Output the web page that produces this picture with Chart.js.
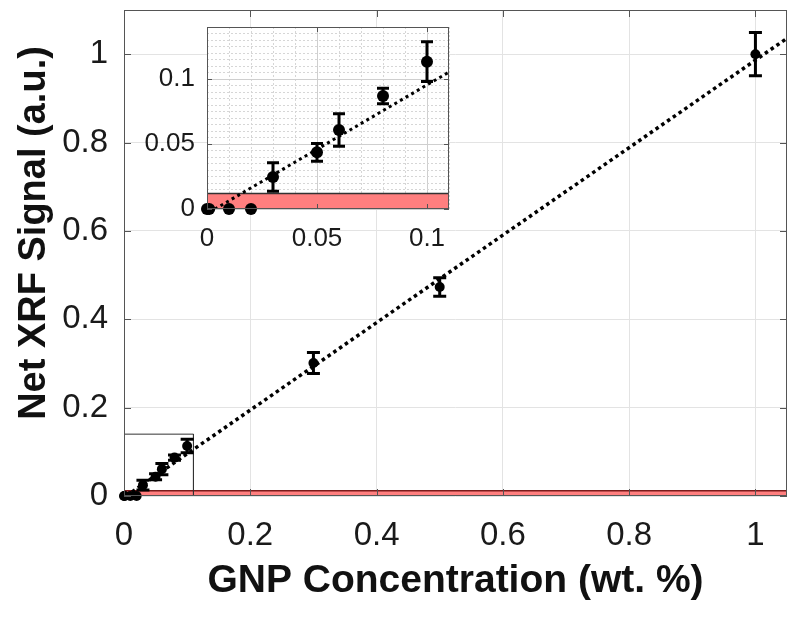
<!DOCTYPE html>
<html>
<head>
<meta charset="utf-8">
<script src="https://cdn.jsdelivr.net/npm/chart.js@4.4.0/dist/chart.umd.min.js"></script>
<style>
  body { margin: 0; background: #fff; }
  #wrap { position: relative; width: 800px; height: 618px; }
  #mainChart { position: absolute; left: 0; top: 0; }
  #insetChart { position: absolute; left: 130px; top: 15px; }
</style>
</head>
<body>
<div id="wrap">
  <canvas id="mainChart" width="800" height="618"></canvas>
  <canvas id="insetChart" width="330" height="250"></canvas>
</div>
<script>
/* Data */
// GNP concentration (wt. %)
const concentration = [0, 0.001, 0.01, 0.02, 0.03, 0.05, 0.06, 0.08, 0.1, 0.3, 0.5, 1.0];
// Net XRF signal (a.u.) and its error
const xrfSignal = [0, 0, 0, 0, 0.0246, 0.0436, 0.0608, 0.0869, 0.1133, 0.301, 0.473, 1.0];
const xrfError = [0, 0, 0, 0, 0.011, 0.0068, 0.0125, 0.006, 0.0153, 0.024, 0.021, 0.049];
// linear fit end points
const fitX = [0.0036, 1.05];
const fitY = [0, 1.036];
// detection limit band (red)
const limitX = [0, 1.05];
const limitY = [0.012, 0.012];
// zoom box of the inset, drawn on the main axes
const boxX = [0, 0.11, 0.11];
const boxY = [0.14, 0.14, 0];
// tick labels
const mainTickValues = [0, 0.2, 0.4, 0.6, 0.8, 1];
const mainTickLabels = ['0', '0.2', '0.4', '0.6', '0.8', '1'];
const insetTickValues = [0, 0.05, 0.1];
const insetTickLabels = ['0', '0.05', '0.1'];

const fontFamily = "'Liberation Sans', Arial, Helvetica, sans-serif";

function toPoints(xs, ys) {
  return xs.map((x, i) => ({ x: x, y: ys[i] }));
}

function labelFor(values, labels) {
  return function (value) {
    const idx = values.findIndex(v => Math.abs(v - value) < 1e-9);
    return idx >= 0 ? labels[idx] : '';
  };
}

function isMajor(value, step) {
  const r = value / step;
  return Math.abs(r - Math.round(r)) < 1e-6;
}

// pin an axis to a fixed size and drop the label overhang padding
function fixSize(prop, size) {
  return scale => {
    scale[prop] = size;
    scale.paddingTop = 0;
    scale.paddingBottom = 0;
    scale.paddingLeft = 0;
    scale.paddingRight = 0;
  };
}

const measured = concentration.map((x, i) => ({ x: x, y: xrfSignal[i], err: xrfError[i] }));

// error bars drawn through the chart scales
const errorBars = {
  id: 'errorBars',
  afterDatasetsDraw(chart, args, opts) {
    const meta = chart.getDatasetMeta(0);
    const points = chart.data.datasets[0].data;
    const ys = chart.scales.y;
    const ctx = chart.ctx;
    ctx.save();
    ctx.strokeStyle = '#000';
    ctx.lineWidth = opts.width;
    meta.data.forEach((el, i) => {
      const p = points[i];
      if (!p.err) return;
      const top = ys.getPixelForValue(p.y + p.err);
      const bot = ys.getPixelForValue(p.y - p.err);
      const half = opts.cap / 2;
      ctx.beginPath();
      ctx.moveTo(el.x, top);
      ctx.lineTo(el.x, bot);
      ctx.moveTo(el.x - half, top);
      ctx.lineTo(el.x + half, top);
      ctx.moveTo(el.x - half, bot);
      ctx.lineTo(el.x + half, bot);
      ctx.stroke();
    });
    ctx.restore();
  }
};

// box around the axes, inward ticks, white axes background, rotated y title
const frame = {
  id: 'frame',
  beforeDraw(chart, args, opts) {
    const a = chart.chartArea;
    const ctx = chart.ctx;
    ctx.save();
    ctx.fillStyle = '#fff';
    ctx.fillRect(a.left, a.top, a.right - a.left, a.bottom - a.top);
    ctx.restore();
  },
  afterDraw(chart, args, opts) {
    const a = chart.chartArea;
    const ctx = chart.ctx;
    const xs = chart.scales.x;
    const ys = chart.scales.y;
    ctx.save();
    ctx.strokeStyle = opts.color;
    ctx.lineWidth = 1;
    ctx.beginPath();
    xs.ticks.forEach(t => {
      if (!isMajor(t.value, opts.step)) return;
      const px = Math.round(xs.getPixelForValue(t.value)) + 0.5;
      ctx.moveTo(px, a.bottom);
      ctx.lineTo(px, a.bottom - opts.len);
      ctx.moveTo(px, a.top);
      ctx.lineTo(px, a.top + opts.len);
    });
    ys.ticks.forEach(t => {
      if (!isMajor(t.value, opts.step)) return;
      const py = Math.round(ys.getPixelForValue(t.value)) + 0.5;
      ctx.moveTo(a.left, py);
      ctx.lineTo(a.left + opts.len, py);
      ctx.moveTo(a.right, py);
      ctx.lineTo(a.right - opts.len, py);
    });
    ctx.stroke();
    ctx.strokeRect(Math.round(a.left) + 0.5, Math.round(a.top) + 0.5,
      Math.round(a.right - a.left) - 1, Math.round(a.bottom - a.top) - 1);

    if (opts.yTitle) {
      ctx.translate(opts.yTitleX, opts.yTitleY);
      ctx.rotate(-Math.PI / 2);
      ctx.fillStyle = '#111';
      ctx.font = 'bold 38px ' + fontFamily;
      ctx.textAlign = 'center';
      ctx.textBaseline = 'alphabetic';
      ctx.fillText(opts.yTitle, 0, 0);
    }
    ctx.restore();
  }
};

/* Main chart */
const mainChart = new Chart(document.getElementById('mainChart').getContext('2d'), {
  type: 'scatter',
  data: {
    datasets: [
      {
        type: 'scatter',
        data: measured,
        backgroundColor: '#000',
        borderWidth: 0,
        pointRadius: 5,
        clip: false
      },
      {
        type: 'line',
        data: toPoints(fitX, fitY),
        borderColor: '#000',
        borderWidth: 3.5,
        borderDash: [3.5, 3.5],
        borderCapStyle: 'butt',
        pointRadius: 0,
        fill: false
      },
      {
        type: 'line',
        data: toPoints(boxX, boxY),
        borderColor: '#333',
        borderWidth: 1,
        pointRadius: 0,
        fill: false
      },
      {
        type: 'line',
        data: toPoints(limitX, limitY),
        borderColor: '#7a1a1a',
        borderWidth: 1.5,
        backgroundColor: '#ff7f7f',
        pointRadius: 0,
        fill: 'origin'
      }
    ]
  },
  options: {
    responsive: false,
    animation: false,
    layout: { padding: { left: 0, top: 10, right: 13, bottom: 0 } },
    plugins: {
      legend: { display: false },
      tooltip: { enabled: false },
      errorBars: { width: 3, cap: 13 },
      frame: { color: '#555', len: 7, step: 0.2, yTitle: 'Net XRF Signal (a.u.)', yTitleX: 45, yTitleY: 233 }
    },
    scales: {
      x: {
        type: 'linear',
        min: 0,
        max: 1.05,
        afterFit: fixSize('height', 122),
        border: { display: false },
        grid: { color: '#e3e3e3', lineWidth: 1, drawTicks: false },
        ticks: {
          stepSize: 0.2,
          includeBounds: false,
          autoSkip: false,
          maxRotation: 0,
          padding: 20,
          color: '#1a1a1a',
          font: { family: fontFamily, size: 33 },
          callback: labelFor(mainTickValues, mainTickLabels)
        },
        title: {
          display: true,
          text: 'GNP Concentration (wt. %)',
          color: '#111',
          font: { family: fontFamily, size: 39, weight: 'bold', lineHeight: 1.2 },
          padding: { top: 0, bottom: 13 }
        }
      },
      y: {
        type: 'linear',
        min: 0,
        max: 1.1,
        afterFit: fixSize('width', 124),
        border: { display: false },
        grid: { color: '#e3e3e3', lineWidth: 1, drawTicks: false },
        ticks: {
          stepSize: 0.2,
          includeBounds: false,
          autoSkip: false,
          padding: 16,
          color: '#1a1a1a',
          font: { family: fontFamily, size: 33 },
          callback: labelFor(mainTickValues, mainTickLabels)
        }
      }
    }
  },
  plugins: [frame, errorBars]
});

/* Inset chart */
const insetXMax = 0.11;
const insetYMax = 0.14;

const insetGrid = {
  drawTicks: false,
  lineWidth: 1,
  color: ctx => (ctx.tick && isMajor(ctx.tick.value, 0.05)) ? '#cfcfcf' : '#d6d6d6'
};
const insetBorder = {
  display: false,
  dash: ctx => (ctx.tick && !isMajor(ctx.tick.value, 0.05)) ? [2, 2] : []
};

const insetChart = new Chart(document.getElementById('insetChart').getContext('2d'), {
  type: 'scatter',
  data: {
    datasets: [
      {
        type: 'scatter',
        data: measured.filter(p => p.x <= insetXMax),
        backgroundColor: '#000',
        borderWidth: 0,
        pointRadius: 6,
        clip: false
      },
      {
        type: 'line',
        data: toPoints(fitX, fitY),
        borderColor: '#000',
        borderWidth: 3,
        borderDash: [3, 3.5],
        borderCapStyle: 'butt',
        pointRadius: 0,
        fill: false,
        clip: 0
      },
      {
        type: 'line',
        data: toPoints(limitX, limitY),
        borderColor: '#333',
        borderWidth: 1.5,
        backgroundColor: '#ff7f7f',
        pointRadius: 0,
        fill: 'origin',
        clip: 0
      }
    ]
  },
  options: {
    responsive: false,
    animation: false,
    layout: { padding: { left: 0, top: 12, right: 11, bottom: 0 } },
    plugins: {
      legend: { display: false },
      tooltip: { enabled: false },
      errorBars: { width: 3, cap: 12 },
      frame: { color: '#555', len: 5, step: 0.05 }
    },
    scales: {
      x: {
        type: 'linear',
        min: 0,
        max: insetXMax,
        afterFit: fixSize('height', 56),
        border: insetBorder,
        grid: insetGrid,
        ticks: {
          stepSize: 0.01,
          maxTicksLimit: 100,
          autoSkip: false,
          maxRotation: 0,
          padding: 14,
          color: '#1a1a1a',
          font: { family: fontFamily, size: 26 },
          callback: labelFor(insetTickValues, insetTickLabels)
        }
      },
      y: {
        type: 'linear',
        min: 0,
        max: insetYMax,
        afterFit: fixSize('width', 77),
        border: insetBorder,
        grid: insetGrid,
        ticks: {
          stepSize: 0.005,
          maxTicksLimit: 100,
          autoSkip: false,
          padding: 12,
          color: '#1a1a1a',
          font: { family: fontFamily, size: 26 },
          callback: labelFor(insetTickValues, insetTickLabels)
        }
      }
    }
  },
  plugins: [frame, errorBars]
});
</script>
</body>
</html>
